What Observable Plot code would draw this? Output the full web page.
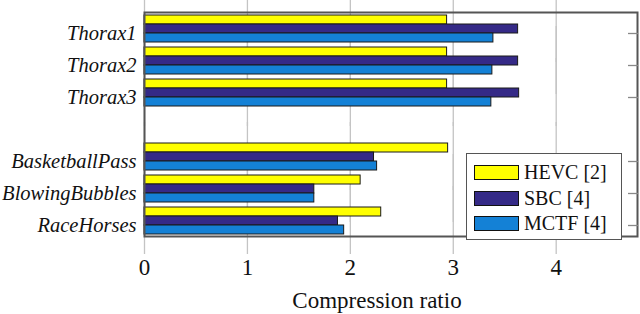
<!DOCTYPE html>
<html>
<head>
<meta charset="utf-8">
<script src="https://cdn.jsdelivr.net/npm/d3@7"></script>
<script src="https://cdn.jsdelivr.net/npm/@observablehq/plot@0.6"></script>
<style>
  html, body { margin: 0; padding: 0; background: #fff; }
  #chart { position: relative; width: 640px; height: 314px; overflow: hidden; }
  #legend { position: absolute; left: 466px; top: 153px; width: 156px; height: 87px; box-sizing: border-box;
            border: 1.5px solid #555; background: #fff; font-family: 'Liberation Serif', 'Times New Roman', serif; font-size: 20px; color: #111; }
  .item { position: absolute; left: 7px; display: flex; align-items: center; height: 20px; }
  .sw { width: 45px; height: 15px; box-sizing: border-box; border: 1.3px solid #111; margin-right: 5px; }
</style>
</head>
<body>
<div id="chart"></div>
<script>
const sequences = ["Thorax1", "Thorax2", "Thorax3", "BasketballPass", "BlowingBubbles", "RaceHorses"];
const gapKey = "__gap__";
const series = ["HEVC [2]", "SBC [4]", "MCTF [4]"];
const colors = ["#ffff00", "#352a87", "#1481d6"];
const hevc = [2.94, 2.94, 2.94, 2.95, 2.10, 2.30];
const sbc  = [3.63, 3.63, 3.64, 2.23, 1.65, 1.88];
const mctf = [3.39, 3.38, 3.37, 2.26, 1.65, 1.94];
const xTicks = [0, 1, 2, 3, 4];
const xLabel = "Compression ratio";

const seriesValues = [hevc, sbc, mctf];
const rows = sequences.flatMap((seq, i) => series.map((name, j) => ({seq, series: name, value: seriesValues[j][i]})));
const fyDomain = [...sequences.slice(0, 3), gapKey, ...sequences.slice(3)];

const chart = Plot.plot({
  width: 640,
  height: 314,
  marginLeft: 144,
  marginRight: 3,
  marginTop: 1,
  marginBottom: 67,
  style: {fontFamily: "'Liberation Serif', 'Times New Roman', serif", background: "white", color: "#111"},
  x: {domain: [0, 4.79], label: null},
  y: {domain: series, paddingInner: 0, paddingOuter: 0.13, axis: null},
  fy: {domain: fyDomain, paddingInner: 0, paddingOuter: 0.34},
  color: {domain: series, range: colors},
  marks: [
    Plot.gridX(xTicks, {stroke: "#c4c4c4", strokeOpacity: 1, strokeWidth: 1.3, insetTop: -18, insetBottom: -18}),
    Plot.barX(rows, {fy: "seq", y: "series", x: "value", fill: "series", stroke: "#1a1a1a", strokeWidth: 1}),
    Plot.frame({facet: "super", stroke: "#555", strokeWidth: 2}),
    Plot.axisX({ticks: xTicks, tickFormat: (d) => String(d), facetAnchor: "bottom", tickSize: 0, tickPadding: 11, dy: 10.9, fontSize: 23, label: null}),
    Plot.text([xLabel], {facet: "super", frameAnchor: "bottom", lineAnchor: "top", dx: -14, dy: 55, fontSize: 23, fill: "#111"}),
    Plot.axisFy({ticks: sequences, anchor: "left", tickSize: 0, tickPadding: 8, dy: 5, fontSize: 20.5, fontStyle: "italic", label: null}),
    Plot.axisFy({ticks: sequences, anchor: "right", tickSize: 10, dx: -10, dy: 5, tickFormat: null, label: null, stroke: "#888", strokeWidth: 1.3})
  ]
});
document.getElementById("chart").appendChild(chart);

const legend = document.createElement("div");
legend.id = "legend";
const tops = [8, 34, 59];
series.forEach((name, i) => {
  const it = document.createElement("div");
  it.className = "item";
  it.style.top = tops[i] + "px";
  const sw = document.createElement("div");
  sw.className = "sw";
  sw.style.background = colors[i];
  const tx = document.createElement("span");
  tx.textContent = name;
  it.appendChild(sw); it.appendChild(tx);
  legend.appendChild(it);
});
document.getElementById("chart").appendChild(legend);
</script>
</body>
</html>
